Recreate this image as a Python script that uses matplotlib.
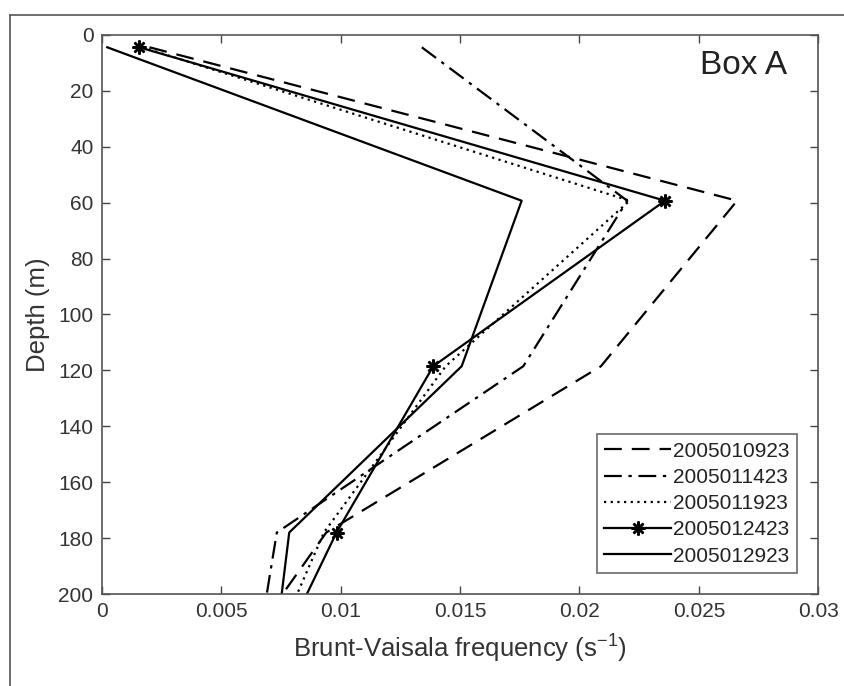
import numpy as np
import matplotlib
matplotlib.use('Agg')
import matplotlib.pyplot as plt
from matplotlib.lines import Line2D

plt.rcParams['font.family'] = ['Liberation Sans', 'DejaVu Sans']
plt.rcParams['mathtext.fontset'] = 'custom'
plt.rcParams['mathtext.rm'] = 'Liberation Sans'
plt.rcParams['mathtext.it'] = 'Liberation Sans'

# depth levels (m), the last one lies below the plotted range
depth = [4.4, 59.3, 118.5, 178, 237]

# Brunt-Vaisala frequency (1/s) per run
labels = ['2005010923', '2005011423', '2005011923', '2005012423', '2005012923']
n_0109 = [0.0020, 0.0266, 0.0209, 0.0094, 0.0045]
n_0114 = [0.0134, 0.0220, 0.01765, 0.00733, 0.0062]
n_0119 = [0.0017, 0.0221, 0.0144, 0.0093, 0.0063]
n_0124 = [0.00157, 0.02358, 0.01388, 0.00983, 0.0065]
n_0129 = [0.00023, 0.01758, 0.01507, 0.00785, 0.0070]

xticks = [0, 0.005, 0.01, 0.015, 0.02, 0.025, 0.03]
xticklabels = ['0', '0.005', '0.01', '0.015', '0.02', '0.025', '0.03']
yticks = np.arange(0, 201, 20)

fig = plt.figure(figsize=(8.45, 6.86), dpi=100)
ax = fig.add_axes([0.1204, 0.1341, 0.8480, 0.8149])

lw = 1.6
ax.plot(n_0109, depth, color='black', lw=lw, dashes=(8, 4.5), label=labels[0])
ax.plot(n_0114, depth, color='black', lw=lw, dashes=(8, 3, 1.5, 3), label=labels[1])
ax.plot(n_0119, depth, color='black', lw=lw, linestyle=(0, (1, 2)), label=labels[2])
ax.plot(n_0124, depth, color='black', lw=lw, marker=(8, 2, 0), markersize=10,
        markeredgewidth=1.8, label=labels[3])
ax.plot(n_0129, depth, color='black', lw=lw, label=labels[4])

ax.set_xlim(0, 0.03)
ax.set_ylim(200, 0)
ax.set_xticks(xticks)
ax.set_xticklabels(xticklabels)
ax.set_yticks(yticks)
ax.tick_params(direction='in', length=6, width=1, colors='#444444',
               labelsize=15, labelcolor='#333333', top=True, right=True, pad=6)
for s in ax.spines.values():
    s.set_color('#555555')
    s.set_linewidth(1.2)

ax.set_xlabel('Brunt-Vaisala frequency (s$^{-1}$)', fontsize=18.5, color='#333333', labelpad=8)
ax.set_ylabel('Depth (m)', fontsize=18.5, color='#333333', labelpad=6)

ax.text(0.896, 0.946, 'Box A', transform=ax.transAxes, fontsize=24,
        ha='center', va='center', color='#222222')

leg = ax.legend(loc='lower right', bbox_to_anchor=(0.970, 0.0376), fontsize=15,
                frameon=True, fancybox=False, handlelength=3.2, handletextpad=0.1,
                borderpad=0.35, labelspacing=0.35, borderaxespad=0)
leg.get_frame().set_edgecolor('#444444')
leg.get_frame().set_linewidth(1.2)
for t in leg.get_texts():
    t.set_color('#222222')

# outer frame of the picture
fx = 10 / 845
fy = 1 - 15 / 686
fig.add_artist(Line2D([fx, fx], [0, fy], transform=fig.transFigure, color='#555555', lw=1.2))
fig.add_artist(Line2D([fx, 1], [fy, fy], transform=fig.transFigure, color='#555555', lw=1.2))

fig.savefig('out.png', dpi=100)
